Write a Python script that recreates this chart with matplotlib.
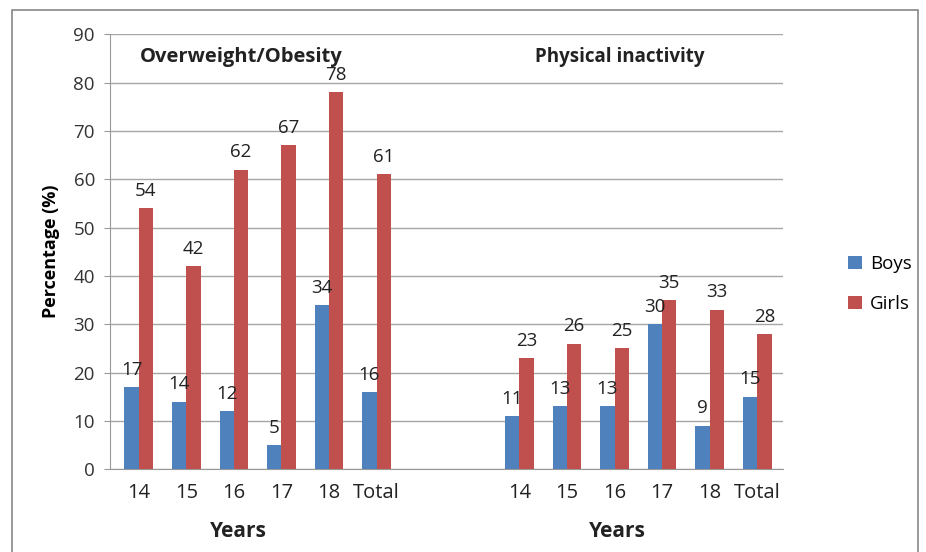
import matplotlib.pyplot as plt
import numpy as np
from matplotlib.patches import Rectangle

plt.rcParams['font.family'] = ['Open Sans', 'DejaVu Sans']

years = ["14", "15", "16", "17", "18", "Total"]
obesity_boys = [17, 14, 12, 5, 34, 16]
obesity_girls = [54, 42, 62, 67, 78, 61]
inactivity_boys = [11, 13, 13, 30, 9, 15]
inactivity_girls = [23, 26, 25, 35, 33, 28]

blue = "#4F81BD"
red = "#C0504D"

fig = plt.figure(figsize=(9.26, 5.52), dpi=100)
ax = fig.add_axes([0.119, 0.150, 0.727, 0.788])

x_left = np.arange(len(years))
x_right = x_left + len(years) + 2
w = 0.3

boys = obesity_boys + inactivity_boys
girls = obesity_girls + inactivity_girls
xs = np.concatenate([x_left, x_right])

b1 = ax.bar(xs - w / 2, boys, w, color=blue, label="Boys", zorder=3)
b2 = ax.bar(xs + w / 2, girls, w, color=red, label="Girls", zorder=3)

for bars in (b1, b2):
    for rect in bars:
        h = rect.get_height()
        ax.annotate(f"{h:g}", (rect.get_x() + rect.get_width() / 2, h),
                    xytext=(0, 6), textcoords="offset points",
                    ha="center", va="bottom", fontsize=13.5, color="#222222")

ax.set_xlim(-0.6, xs[-1] + 0.55)
ax.set_ylim(0, 90)
ax.set_yticks(range(0, 91, 10))
ax.set_xticks(xs)
ax.set_xticklabels(years + years)
ax.tick_params(axis="x", length=0, labelsize=14.5, pad=10, colors="#222222")
ax.tick_params(axis="y", length=4, color="#999999", labelsize=13.5, pad=7, labelcolor="#333333")
ax.yaxis.grid(True, color="#a6a6a6", linewidth=1)
ax.set_axisbelow(True)
for s in ["top", "right"]:
    ax.spines[s].set_visible(False)
ax.spines["left"].set_color("#999999")
ax.spines["bottom"].set_color("#999999")

ax.set_ylabel("Percentage (%)", fontsize=13, fontweight="bold", labelpad=10)

# group titles and x labels
ax.text(2.15, 85.3, "Overweight/Obesity", ha="center", va="center",
        fontsize=14.5, fontweight="bold", color="#222222")
ax.text(10.1, 85.3, "Physical inactivity", ha="center", va="center",
        fontsize=13.5, fontweight="bold", color="#222222")
for xm in (2.1, 10.05):
    ax.annotate("Years", (xm, 0), xycoords=("data", "axes fraction"),
                xytext=(0, -45), textcoords="offset points",
                ha="center", va="center", fontsize=15, fontweight="bold", color="#222222")

fig.legend(handles=[b1, b2], loc="center left", bbox_to_anchor=(0.898, 0.485),
           frameon=False, fontsize=13.5, handlelength=0.7, handleheight=0.7,
           labelspacing=1.15, handletextpad=0.45)

fig.patches.append(Rectangle((0.013, -0.01), 0.978, 0.992, transform=fig.transFigure,
                             fill=False, edgecolor="#888888", linewidth=1.2))

fig.savefig("out.png", dpi=100)
